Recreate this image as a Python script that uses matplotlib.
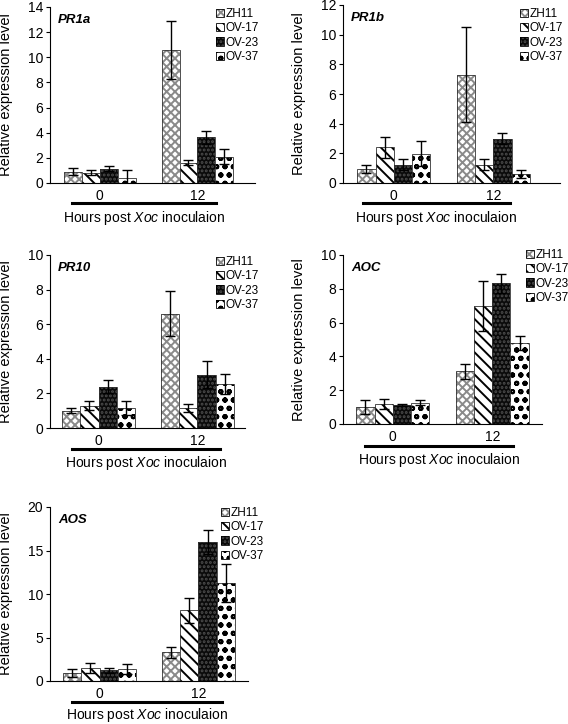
import matplotlib
matplotlib.use('Agg')
import matplotlib.pyplot as plt
from matplotlib.patches import Patch
from matplotlib.lines import Line2D
import numpy as np

plt.rcParams['font.family'] = ['Liberation Sans', 'DejaVu Sans']
plt.rcParams['mathtext.fontset'] = 'custom'
plt.rcParams['mathtext.rm'] = 'Liberation Sans'
plt.rcParams['mathtext.it'] = 'Liberation Sans:italic'
plt.rcParams['hatch.linewidth'] = 1.4

# data: rows = lines, columns = hours (0, 12)
hours = ['0', '12']
lines = ['ZH11', 'OV-17', 'OV-23', 'OV-37']

pr1a_mean = [[0.90, 10.55], [0.82, 1.62], [1.14, 3.62], [0.36, 2.08]]
pr1a_err = [[0.28, 2.30], [0.20, 0.18], [0.20, 0.52], [0.66, 0.60]]
pr1b_mean = [[0.97, 7.30], [2.40, 1.24], [1.24, 3.00], [1.97, 0.63]]
pr1b_err = [[0.27, 3.20], [0.70, 0.38], [0.38, 0.40], [0.85, 0.27]]
pr10_mean = [[1.00, 6.60], [1.30, 1.16], [2.38, 3.08], [1.16, 2.54]]
pr10_err = [[0.15, 1.30], [0.28, 0.22], [0.38, 0.77], [0.42, 0.58]]
aoc_mean = [[1.00, 3.12], [1.17, 6.96], [1.10, 8.32], [1.26, 4.78]]
aoc_err = [[0.43, 0.44], [0.31, 1.48], [0.06, 0.58], [0.16, 0.40]]
aos_mean = [[0.92, 3.30], [1.49, 8.12], [1.23, 16.00], [1.38, 11.26]]
aos_err = [[0.42, 0.60], [0.58, 1.46], [0.30, 1.40], [0.54, 2.14]]

# fill styles: face, hatch, hatch colour
styles = [('white', 'xxxx', '#8a8a8a'),
          ('white', '\\\\\\', 'black'),
          ('#0a0a0a', '....', '#4d4d4d'),
          ('white', 'oo', 'black')]

W, H = 568, 724
fig = plt.figure(figsize=(W / 100, H / 100), dpi=100)


def px_rect(left, right, top, bottom):
    return [left / W, 1 - bottom / H, (right - left) / W, (bottom - top) / H]


def panel(rect, ymax, ystep, title, mean, err, xlim, leg_xy, line_x, line_y, lab_y):
    ax = fig.add_axes(px_rect(*rect))
    x = np.arange(len(hours))
    bw = 0.183
    for i, lab in enumerate(lines):
        face, hatch, hc = styles[i]
        pos = x + (i - 1.5) * bw
        ax.bar(pos, mean[i], bw, color=face, hatch=hatch, edgecolor=hc, linewidth=0)
        ax.bar(pos, mean[i], bw, fill=False, edgecolor='#333333', linewidth=0.6)
        ax.errorbar(pos, mean[i], yerr=err[i], fmt='none', ecolor='black',
                    elinewidth=1.0, capsize=3.5, capthick=1.0)
    ax.set_xlim(*xlim)
    ax.set_ylim(0, ymax)
    ax.set_yticks(np.arange(0, ymax + 0.01, ystep))
    ax.set_xticks(x)
    ax.set_xticklabels(hours)
    ax.tick_params(axis='x', length=0, labelsize=10, pad=4)
    ax.tick_params(axis='y', direction='out', length=3, labelsize=10, pad=2)
    for s in ['top', 'right']:
        ax.spines[s].set_visible(False)
    ax.spines['left'].set_linewidth(0.8)
    ax.spines['bottom'].set_linewidth(0.8)
    ax.set_ylabel('Relative expression level', fontsize=10.5)
    ax.yaxis.set_label_coords(-37 / (rect[1] - rect[0]), 0.5)
    ax.text(8 / (rect[1] - rect[0]), 1 - 13 / (rect[3] - rect[2]), title,
            transform=ax.transAxes, fontsize=9.5, fontweight='bold',
            fontstyle='italic', va='center', ha='left')
    handles = []
    for face, hatch, hc in styles:
        handles.append((Patch(facecolor=face, hatch=hatch, edgecolor=hc, linewidth=0),
                        Patch(fill=False, edgecolor='black', linewidth=0.6)))
    fig.legend(handles, lines, loc='upper left',
               bbox_to_anchor=(leg_xy[0] / W, 1 - leg_xy[1] / H),
               frameon=False, fontsize=8.5, handlelength=0.7, handleheight=0.7,
               handletextpad=0.1, labelspacing=0.2, borderpad=0, borderaxespad=0)
    fig.add_artist(Line2D([line_x[0] / W, line_x[1] / W], [1 - line_y / H] * 2,
                          color='black', linewidth=2.2))
    fig.text((line_x[0] + line_x[1]) / 2 / W, 1 - lab_y / H,
             'Hours post $\\it{Xoc}$ inoculaion', fontsize=10, ha='center', va='center')
    return ax


panel((50, 255, 7, 183), 14, 2, 'PR1a', pr1a_mean, pr1a_err, (-0.51, 1.59),
      (216, 8), (72, 216), 203, 218)
panel((343, 560, 5, 183), 12, 2, 'PR1b', pr1b_mean, pr1b_err, (-0.51, 1.67),
      (520, 8), (363, 510), 203, 218)
panel((50, 245, 255, 428), 10, 2, 'PR10', pr10_mean, pr10_err, (-0.49, 1.48),
      (216, 256), (72, 220), 449, 463)
panel((343, 542, 255, 424), 10, 2, 'AOC', aoc_mean, aoc_err, (-0.5, 1.5),
      (526, 249), (365, 513), 446, 460)
panel((50, 248, 507, 681), 20, 5, 'AOS', aos_mean, aos_err, (-0.5, 1.5),
      (221, 507), (72, 222), 702, 715)

fig.savefig('out.png', dpi=100)
